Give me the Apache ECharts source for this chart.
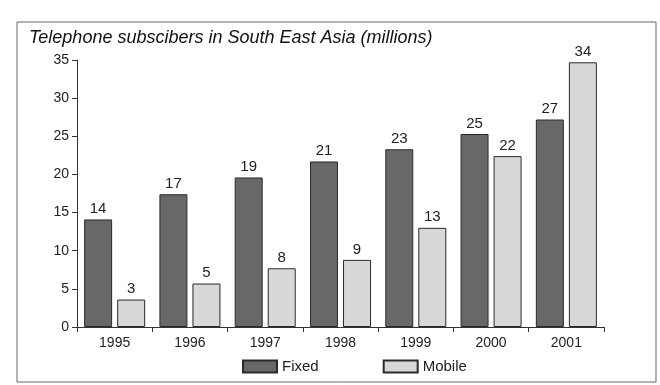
<!DOCTYPE html>
<html>
<head>
<meta charset="utf-8">
<script src="https://cdn.jsdelivr.net/npm/echarts@6/dist/echarts.min.js"></script>
<style>
  html, body { margin: 0; padding: 0; background: #fff; }
  #chart { width: 660px; height: 385px; }
</style>
</head>
<body>
<div id="chart"></div>
<script>
// data
var years = ['1995', '1996', '1997', '1998', '1999', '2000', '2001']
var fixedValues = [14.1, 17.4, 19.6, 21.7, 23.3, 25.3, 27.2]
var mobileValues = [3.6, 5.7, 7.7, 8.8, 13.0, 22.4, 34.7]
// the printed numbers above the bars
var fixedLabels = [14, 17, 19, 21, 23, 25, 27]
var mobileLabels = [3, 5, 8, 9, 13, 22, 34]

var chart = echarts.init(document.getElementById('chart'))
var font = 'Liberation Sans, Arial, sans-serif'

var option = {
  animation: false,
  textStyle: { fontFamily: font },
  title: {
    text: 'Telephone subscibers in South East Asia (millions)',
    left: 24,
    top: 24,
    textStyle: { fontSize: 18, fontStyle: 'italic', fontWeight: 'normal', color: '#111', fontFamily: font }
  },
  graphic: [{
    type: 'rect',
    shape: { x: 17, y: 22, width: 639, height: 360 },
    style: { fill: 'none', stroke: '#666', lineWidth: 1 },
    silent: true
  }],
  legend: {
    data: ['Fixed', 'Mobile'],
    left: 237,
    top: 354,
    icon: 'rect',
    itemWidth: 34,
    itemHeight: 12,
    itemGap: 64,
    textStyle: { fontSize: 15, color: '#222', fontFamily: font }
  },
  grid: {
    left: 77,
    right: 56,
    top: 60,
    bottom: 58
  },
  xAxis: {
    type: 'category',
    data: years,
    axisLine: { lineStyle: { color: '#333', width: 1 } },
    axisTick: { show: true, length: 5, lineStyle: { color: '#333' } },
    axisLabel: { color: '#222', fontSize: 14, margin: 9 }
  },
  yAxis: {
    type: 'value',
    min: 0,
    max: 35,
    interval: 5,
    splitLine: { show: false },
    axisLine: { show: true, lineStyle: { color: '#333', width: 1 } },
    axisTick: { show: true, length: 5, lineStyle: { color: '#333' } },
    axisLabel: { color: '#222', fontSize: 14, margin: 8 }
  },
  series: [{
    name: 'Fixed',
    type: 'bar',
    data: fixedValues,
    barWidth: 28,
    barGap: '18%',
    itemStyle: { color: '#686868', borderColor: '#2a2a2a', borderWidth: 1 },
    label: {
      show: true,
      position: 'top',
      distance: 3,
      fontSize: 15,
      color: '#222',
      formatter: function(p) { return fixedLabels[p.dataIndex] }
    }
  }, {
    name: 'Mobile',
    type: 'bar',
    data: mobileValues,
    barWidth: 28,
    itemStyle: { color: '#d8d8d8', borderColor: '#2a2a2a', borderWidth: 1 },
    label: {
      show: true,
      position: 'top',
      distance: 3,
      fontSize: 15,
      color: '#222',
      formatter: function(p) { return mobileLabels[p.dataIndex] }
    }
  }]
}
chart.setOption(option)
</script>
</body>
</html>
